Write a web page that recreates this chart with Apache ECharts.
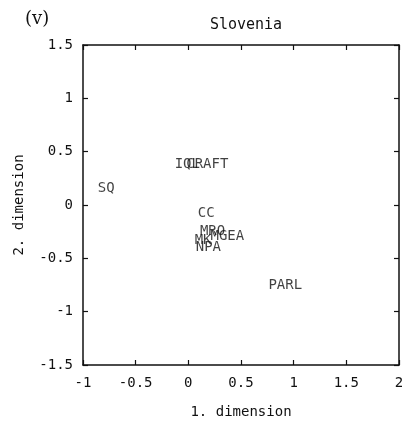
<!DOCTYPE html>
<html><head><meta charset="utf-8">
<script src="https://cdn.jsdelivr.net/npm/echarts@6/dist/echarts.min.js"></script>
<style>html,body{margin:0;padding:0;background:#fff}#c{width:409px;height:425px}</style>
</head><body><div id="c"></div>
<script>
var labels = ["SQ","IQL","CRAFT","CC","MRO","MGEA","MK","NPA","PARL"];
var dim1 = [-0.78,-0.01,0.18,0.17,0.23,0.37,0.14,0.19,0.92];
var dim2 = [0.16,0.385,0.385,-0.08,-0.25,-0.29,-0.33,-0.40,-0.75];
var xTicks = [-1,-0.5,0,0.5,1,1.5,2];
var yTicks = [-1.5,-1,-0.5,0,0.5,1,1.5];

var font = "'DejaVu Sans Mono', 'Liberation Mono', monospace";
var pts = labels.map(function(l,i){return [dim1[i],dim2[i],l];});
var axLine = {show:true, onZero:false, lineStyle:{color:'#111', width:1.5}};
var tick = {show:true, inside:true, length:5, lineStyle:{color:'#111', width:1.2}};
var chart = echarts.init(document.getElementById('c'));
chart.setOption({
  animation:false,
  backgroundColor:'#fff',
  title:[
    {text:'Slovenia', left:241, top:13, textAlign:'center',
     textStyle:{fontFamily:font, fontSize:15, fontWeight:'normal', color:'#111'}},
    {text:'(v)', left:20, top:5,
     textStyle:{fontFamily:"'DejaVu Serif', 'Liberation Serif', serif", fontSize:18, fontWeight:'normal', color:'#111'}}
  ],
  grid:{left:83, right:10, top:45, bottom:60, show:false},
  xAxis:[
    {type:'value', min:-1, max:2, interval:0.5, position:'bottom',
     axisLine:axLine, axisTick:tick, splitLine:{show:false},
     axisLabel:{fontFamily:font, fontSize:14, color:'#111', margin:11,
       formatter:function(v){return xTicks.indexOf(v)>=0?String(v):'';}},
     name:'1. dimension', nameLocation:'middle', nameGap:40,
     nameTextStyle:{fontFamily:font, fontSize:14, color:'#111'}},
    {type:'value', min:-1, max:2, interval:0.5, position:'top',
     axisLine:axLine, axisTick:tick, splitLine:{show:false}, axisLabel:{show:false}}
  ],
  yAxis:[
    {type:'value', min:-1.5, max:1.5, interval:0.5, position:'left',
     axisLine:axLine, axisTick:tick, splitLine:{show:false},
     axisLabel:{fontFamily:font, fontSize:14, color:'#111', margin:10,
       formatter:function(v){return yTicks.indexOf(v)>=0?String(v):'';}},
     name:'2. dimension', nameLocation:'middle', nameGap:57, nameRotate:90,
     nameTextStyle:{fontFamily:font, fontSize:14, color:'#111'}},
    {type:'value', min:-1.5, max:1.5, interval:0.5, position:'right',
     axisLine:axLine, axisTick:tick, splitLine:{show:false}, axisLabel:{show:false}}
  ],
  series:[{
    type:'scatter', data:pts, symbolSize:1,
    itemStyle:{color:'rgba(0,0,0,0)'},
    label:{show:true, position:'inside', formatter:function(p){return p.data[2];},
      fontFamily:font, fontSize:14, color:'#111'},
    labelLayout:{hideOverlap:false}
  }]
});
</script></body></html>
